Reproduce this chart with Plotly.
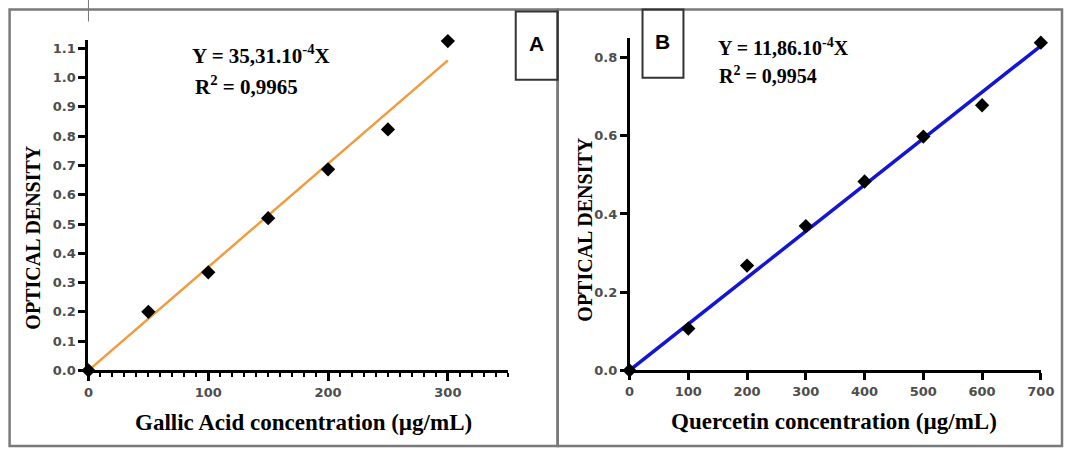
import plotly.graph_objects as go

W, H = 1076, 454

# ---- data ----
ga_conc = [0, 50, 100, 150, 200, 250, 300]
ga_od = [0.0, 0.20, 0.335, 0.52, 0.687, 0.823, 1.125]
ga_fit_x = [0, 300]
ga_fit_y = [0.0, 1.059]

q_conc = [0, 100, 200, 300, 400, 500, 600, 700]
q_od = [0.0, 0.107, 0.268, 0.369, 0.483, 0.598, 0.678, 0.838]
q_fit_x = [0, 700]
q_fit_y = [0.0, 0.830]

ga_yticks = [0.0, 0.1, 0.2, 0.3, 0.4, 0.5, 0.6, 0.7, 0.8, 0.9, 1.0, 1.1]
ga_xticks = [0, 100, 200, 300]
q_yticks = [0.0, 0.2, 0.4, 0.6, 0.8]
q_xticks = [0, 100, 200, 300, 400, 500, 600, 700]


def px(x):
    return min(1.0, max(0.0, ((x - 3.4) / 0.984) / W))


def py(y):
    return min(1.0, max(0.0, 1 - ((y - 0.5) / 0.98) / H))


fig = go.Figure()

fig.add_trace(go.Scatter(x=ga_fit_x, y=ga_fit_y, mode="lines",
                         line=dict(color="#F39B3C", width=2.5),
                         xaxis="x", yaxis="y", showlegend=False, cliponaxis=False))
fig.add_trace(go.Scatter(x=ga_conc, y=ga_od, mode="markers",
                         marker=dict(symbol="diamond", size=11, color="black"),
                         xaxis="x", yaxis="y", showlegend=False, cliponaxis=False))
fig.add_trace(go.Scatter(x=q_fit_x, y=q_fit_y, mode="lines",
                         line=dict(color="#1414D8", width=3.5),
                         xaxis="x2", yaxis="y2", showlegend=False, cliponaxis=False))
fig.add_trace(go.Scatter(x=q_conc, y=q_od, mode="markers",
                         marker=dict(symbol="diamond", size=11, color="black"),
                         xaxis="x2", yaxis="y2", showlegend=False, cliponaxis=False))

tickfont = dict(family="DejaVu Sans", size=13, color="#4d4d4d", weight="bold")
axis_common = dict(showline=True, linecolor="black", showgrid=False, zeroline=False,
                   ticks="outside", tickcolor="black", tickfont=tickfont, fixedrange=True)

fig.update_layout(
    width=W, height=H,
    margin=dict(l=0, r=0, t=0, b=0),
    paper_bgcolor="white", plot_bgcolor="white",
    xaxis=dict(domain=[px(87), px(507)], range=[0, 350], anchor="y",
               tickvals=ga_xticks, ticklen=8, tickwidth=2.5, linewidth=3,
               minor=dict(dtick=10, tick0=0, ticklen=4, tickwidth=2, ticks="outside",
                          tickcolor="black"),
               **axis_common),
    yaxis=dict(domain=[py(370), py(40)], range=[0, 1.13], anchor="x",
               tickvals=ga_yticks, tickformat=".1f", ticklen=7, tickwidth=2.5,
               linewidth=3, **axis_common),
    xaxis2=dict(domain=[px(629), px(1041)], range=[0, 700], anchor="y2",
                tickvals=q_xticks, ticklen=7, tickwidth=2.5, linewidth=2.5,
                **axis_common),
    yaxis2=dict(domain=[py(370), py(38)], range=[0, 0.851], anchor="x2",
                tickvals=q_yticks, tickformat=".1f", ticklen=7, tickwidth=2.5,
                linewidth=2.5, **axis_common),
)

serif = "Liberation Serif"
annots = [
    dict(x=px(32), y=py(238), text="OPTICAL DENSITY", textangle=-90,
         font=dict(family=serif, size=20, color="black", weight="bold")),
    dict(x=px(584), y=py(230), text="OPTICAL DENSITY", textangle=-90,
         font=dict(family=serif, size=20, color="black", weight="bold")),
    dict(x=px(302), y=py(422), text="Gallic Acid concentration (µg/mL)",
         font=dict(family=serif, size=23, color="black", weight="bold")),
    dict(x=px(834), y=py(421), text="Quercetin concentration (µg/mL)",
         font=dict(family=serif, size=23, color="black", weight="bold")),
    dict(x=px(189), y=py(55), xanchor="left", text="Y = 35,31.10<sup>-4</sup>X",
         font=dict(family=serif, size=21, color="black", weight="bold")),
    dict(x=px(192), y=py(86), xanchor="left", text="R<sup>2</sup> = 0,9965",
         font=dict(family=serif, size=21, color="black", weight="bold")),
    dict(x=px(716), y=py(47), xanchor="left", text="Y = 11,86.10<sup>-4</sup>X",
         font=dict(family=serif, size=20, color="black", weight="bold")),
    dict(x=px(717), y=py(75), xanchor="left", text="R<sup>2</sup> = 0,9954",
         font=dict(family=serif, size=20, color="black", weight="bold")),
    dict(x=px(536), y=py(44), text="A",
         font=dict(family="Liberation Sans", size=21, color="black", weight="bold")),
    dict(x=px(662), y=py(42), text="B",
         font=dict(family="Liberation Sans", size=21, color="black", weight="bold")),
]
for a in annots:
    a.update(xref="paper", yref="paper", showarrow=False)
    a.setdefault("xanchor", "center")
    a.setdefault("yanchor", "middle")
    fig.add_annotation(**a)

border = dict(color="#7a7a7a", width=2.5)
shapes = [
    dict(type="rect", x0=px(8), x1=px(557), y0=py(451), y1=py(10), line=border),
    dict(type="rect", x0=px(557), x1=px(1075), y0=py(451), y1=py(10), line=border),
    dict(type="line", x0=px(87), x1=px(87), y0=py(0), y1=py(22),
         line=dict(color="#777777", width=1)),
    dict(type="rect", x0=px(515), x1=px(557), y0=py(80), y1=py(12),
         line=dict(color="#333333", width=2)),
    dict(type="rect", x0=px(642), x1=px(683), y0=py(78), y1=py(10),
         line=dict(color="#333333", width=2)),
]
for s in shapes:
    s.update(xref="paper", yref="paper", layer="below")
    fig.add_shape(**s)

fig.write_html(
    "out.html",
    config={"displayModeBar": False},
    post_script=("document.body.style.margin='0';"
                 "document.body.style.overflow='hidden';"),
)
